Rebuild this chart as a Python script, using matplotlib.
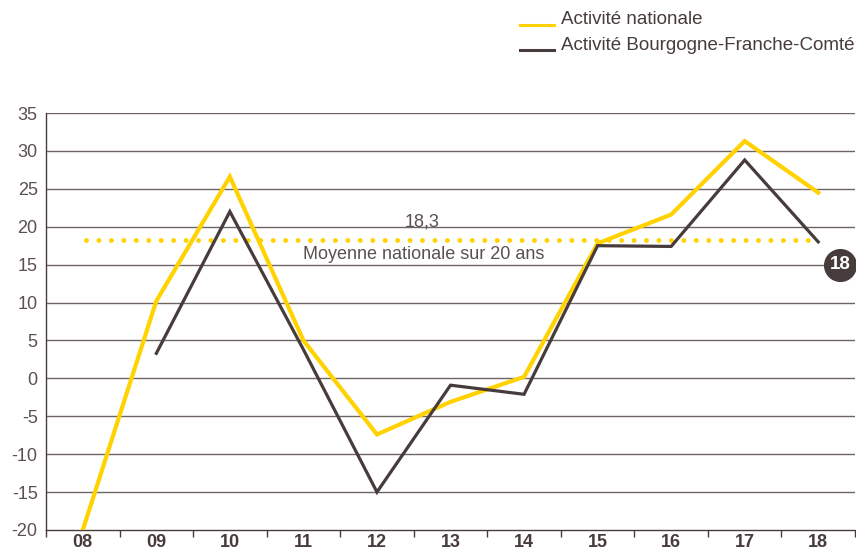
import numpy as np
import matplotlib.pyplot as plt

plt.rcParams['font.family'] = ['Liberation Sans', 'DejaVu Sans']

# data
years = ["08", "09", "10", "11", "12", "13", "14", "15", "16", "17", "18"]
nationale = [-20, 10.2, 26.6, 5.0, -7.4, -3.1, 0.2, 17.8, 21.6, 31.3, 24.5]
bfc = [None, 3.3, 22.0, 3.8, -15.0, -0.9, -2.1, 17.5, 17.4, 28.8, 18.0]
moyenne = 18.3
y_ticks = [-20, -15, -10, -5, 0, 5, 10, 15, 20, 25, 30, 35]

yellow = "#FFD200"
dark = "#473B3B"
grey_txt = "#5A5050"

fig = plt.figure(figsize=(8.56, 5.52), dpi=100)
ax = fig.add_axes([46 / 856, (552 - 530) / 552, (855 - 46) / 856, (530 - 113) / 552])

x = np.arange(len(years))
bfc_x = [i for i, v in enumerate(bfc) if v is not None]
bfc_y = [v for v in bfc if v is not None]

# grid
for t in y_ticks[1:]:
    ax.axhline(t, color="#6E6464", lw=1.0, zorder=1)

# 20 year average
ax.plot([0.05, len(years) - 1], [moyenne, moyenne], color=yellow, lw=3.5,
        linestyle=(0, (0.01, 2.55)), dash_capstyle="round", zorder=2)
ax.text(4.62, moyenne + 2.3, "18,3", ha="center", va="center", fontsize=13, color=grey_txt)
ax.text(4.63, moyenne - 2.0, "Moyenne nationale sur 20 ans", ha="center", va="center",
        fontsize=13, color=grey_txt)

ax.plot(x, nationale, color=yellow, lw=3, zorder=3, solid_joinstyle="miter")
ax.plot(bfc_x, bfc_y, color=dark, lw=2.3, zorder=4, solid_joinstyle="miter")

# end marker
ax.scatter([len(years) - 1 + 0.3], [15], s=520, color=dark, zorder=5, clip_on=False)
ax.text(len(years) - 1 + 0.3, 15, "18", ha="center", va="center", color="white",
        fontsize=13.5, fontweight="bold", zorder=6, clip_on=False)

ax.set_xlim(-0.5, len(years) - 0.5)
ax.set_ylim(-20, 35)
ax.set_yticks(y_ticks)
ax.set_yticklabels([str(t) for t in y_ticks], fontsize=13, color=grey_txt)
ax.tick_params(axis="y", length=0, pad=6)

ax.set_xticks(x)
ax.set_xticklabels(years, fontsize=13, fontweight="bold", color=dark)
ax.set_xticks(np.arange(-0.5, len(years)), minor=True)
ax.tick_params(axis="x", which="major", length=0, pad=3)
ax.tick_params(axis="x", which="minor", length=5, width=1, color=dark, direction="out")

for s in ["top", "right"]:
    ax.spines[s].set_visible(False)
ax.spines["left"].set_color(dark)
ax.spines["bottom"].set_color(dark)
ax.spines["left"].set_linewidth(1)
ax.spines["bottom"].set_linewidth(1)

# legend
fig.add_artist(plt.Line2D([520 / 856, 554 / 856], [1 - 25 / 552, 1 - 25 / 552],
                          color=yellow, lw=2.2))
fig.add_artist(plt.Line2D([520 / 856, 554 / 856], [1 - 50 / 552, 1 - 50 / 552],
                          color=dark, lw=2.2))
fig.text(561 / 856, 1 - 19 / 552, "Activité nationale", fontsize=13.5, color=dark,
         va="center", ha="left")
fig.text(561 / 856, 1 - 45 / 552, "Activité Bourgogne-Franche-Comté", fontsize=13.5,
         color=dark, va="center", ha="left")

fig.savefig("out.png", dpi=100)
